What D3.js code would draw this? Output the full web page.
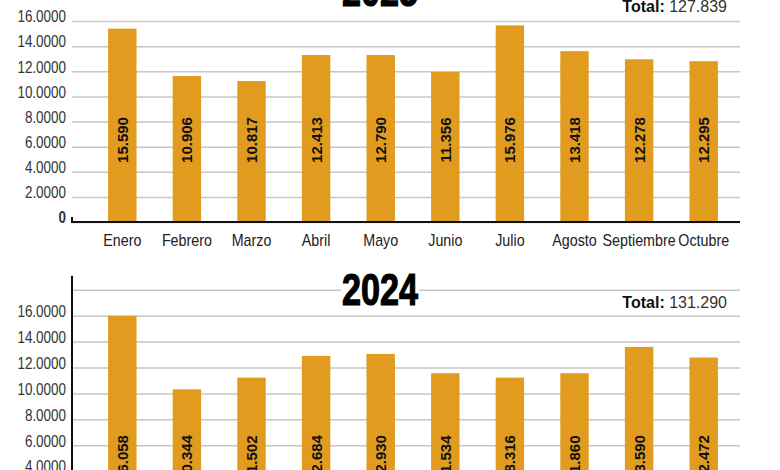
<!DOCTYPE html>
<html>
<head>
<meta charset="utf-8">
<script src="https://cdn.jsdelivr.net/npm/d3@7"></script>
<style>
  body { margin: 0; background: #fff; }
  svg { display: block; }
</style>
</head>
<body>
<div id="chart"></div>
<script>
// months and values (bar heights, labels as printed)
const months = ["Enero", "Febrero", "Marzo", "Abril", "Mayo", "Junio", "Julio", "Agosto", "Septiembre", "Octubre"];
const bars2025 = [15390, 11620, 11220, 13290, 13290, 11940, 15650, 13600, 12950, 12800];
const labels2025 = [15590, 10906, 10817, 12413, 12790, 11356, 15976, 13418, 12278, 12295];
const bars2024 = [16000, 10320, 11220, 12900, 13050, 11560, 11220, 11560, 13590, 12770];
const labels2024 = [16058, 10344, 11502, 12684, 12930, 11534, 18316, 11860, 13590, 12472];
const yTicks = [0, 2000, 4000, 6000, 8000, 10000, 12000, 14000, 16000, 18000];

const W = 780, H = 470;
const SANS = "'Liberation Sans', Arial, sans-serif";
const BAR = "#e19b1f";
const LEFT = 72, RIGHT = 740;

const es = d3.formatLocale({ decimal: ",", thousands: ".", grouping: [3], currency: ["", ""] });
const fmt = es.format(",");
const tickFmt = d => (d === 0 ? "0" : d > 16000 ? "" : (d / 1000).toFixed(4));

// no narrow font installed, so squeeze the glyphs instead
function condense(sel, k) {
  sel.each(function () {
    const len = this.getComputedTextLength();
    if (len > 0) {
      d3.select(this).attr("textLength", len * k).attr("lengthAdjust", "spacingAndGlyphs");
    }
  });
}

const svg = d3.select("#chart").append("svg")
  .attr("width", W)
  .attr("height", H);

const x = d3.scaleBand()
  .domain(months)
  .range([90, 736])
  .paddingInner(0.56)
  .paddingOuter(0.28);

function drawPanel(cfg) {
  const g = svg.append("g");
  const y = d3.scaleLinear().domain([0, 16000]).range([cfg.base, cfg.top16]);

  // gridlines + tick labels
  const yAxis = g.append("g")
    .attr("transform", `translate(${LEFT},0)`)
    .call(d3.axisLeft(y).tickValues(yTicks).tickSize(-(RIGHT - LEFT)).tickPadding(6).tickFormat(tickFmt));
  yAxis.select(".domain").remove();
  yAxis.selectAll(".tick line")
    .attr("stroke", "#c6c6c6")
    .attr("stroke-width", 1.5);
  yAxis.selectAll(".tick text")
    .attr("dy", "0.05em")
    .attr("fill", "#333")
    .style("font-family", SANS)
    .style("font-size", "16px")
    .style("font-weight", d => (d === 0 ? "bold" : "normal"))
    .call(condense, 0.84);

  // title with white box
  const title = g.append("g").attr("transform", `translate(380,${cfg.titleY})`);
  title.append("rect")
    .attr("x", -39).attr("y", -35)
    .attr("width", 78).attr("height", 37)
    .attr("fill", "#fff");
  title.append("text")
    .attr("transform", "scale(0.76,1)")
    .attr("text-anchor", "middle")
    .attr("fill", "#000")
    .attr("stroke", "#000")
    .attr("stroke-width", 1.2)
    .style("font-family", SANS)
    .style("font-size", "45px")
    .style("font-weight", "bold")
    .text(cfg.year);

  // total
  const total = g.append("text")
    .attr("x", 727)
    .attr("y", cfg.totalY)
    .attr("text-anchor", "end")
    .style("font-family", SANS)
    .style("font-size", "16px");
  total.append("tspan").attr("font-weight", "bold").attr("fill", "#111").text("Total:");
  total.append("tspan").attr("fill", "#333").text(" " + fmt(d3.sum(cfg.labels)));

  // bars
  g.selectAll(".bar")
    .data(cfg.bars)
    .join("rect")
    .attr("class", "bar")
    .attr("x", (d, i) => x(months[i]))
    .attr("y", d => y(d))
    .attr("width", x.bandwidth())
    .attr("height", d => cfg.base - y(d))
    .attr("fill", BAR);

  // value labels inside bars
  g.selectAll(".val")
    .data(cfg.labels)
    .join("text")
    .attr("class", "val")
    .attr("transform", (d, i) => `translate(${x(months[i]) + x.bandwidth() / 2},${cfg.labelY}) rotate(-90)`)
    .attr("text-anchor", "middle")
    .attr("dy", "0.36em")
    .attr("fill", "#111")
    .style("font-family", SANS)
    .style("font-size", "15px")
    .style("font-weight", "bold")
    .text(d => fmt(d));

  // month axis
  const xAxis = g.append("g")
    .attr("transform", `translate(0,${cfg.base})`)
    .call(d3.axisBottom(x).tickSize(0).tickPadding(12));
  xAxis.select(".domain").remove();
  xAxis.selectAll(".tick text")
    .attr("fill", "#222")
    .style("font-family", SANS)
    .style("font-size", "17px")
    .call(condense, 0.84);

  // axis lines
  g.append("line")
    .attr("x1", LEFT).attr("x2", RIGHT)
    .attr("y1", cfg.base).attr("y2", cfg.base)
    .attr("stroke", "#111").attr("stroke-width", 2);
  g.append("line")
    .attr("x1", LEFT).attr("x2", LEFT)
    .attr("y1", cfg.axisTop).attr("y2", cfg.base + 1)
    .attr("stroke", "#111").attr("stroke-width", 2);
}

drawPanel({ year: "2025", bars: bars2025, labels: labels2025, base: 222, top16: 21, axisTop: 217, labelY: 140, titleY: 6, totalY: 12 });
drawPanel({ year: "2024", bars: bars2024, labels: labels2024, base: 523, top16: 315.7, axisTop: 275.7, labelY: 458, titleY: 305, totalY: 308 });
</script>
</body>
</html>
